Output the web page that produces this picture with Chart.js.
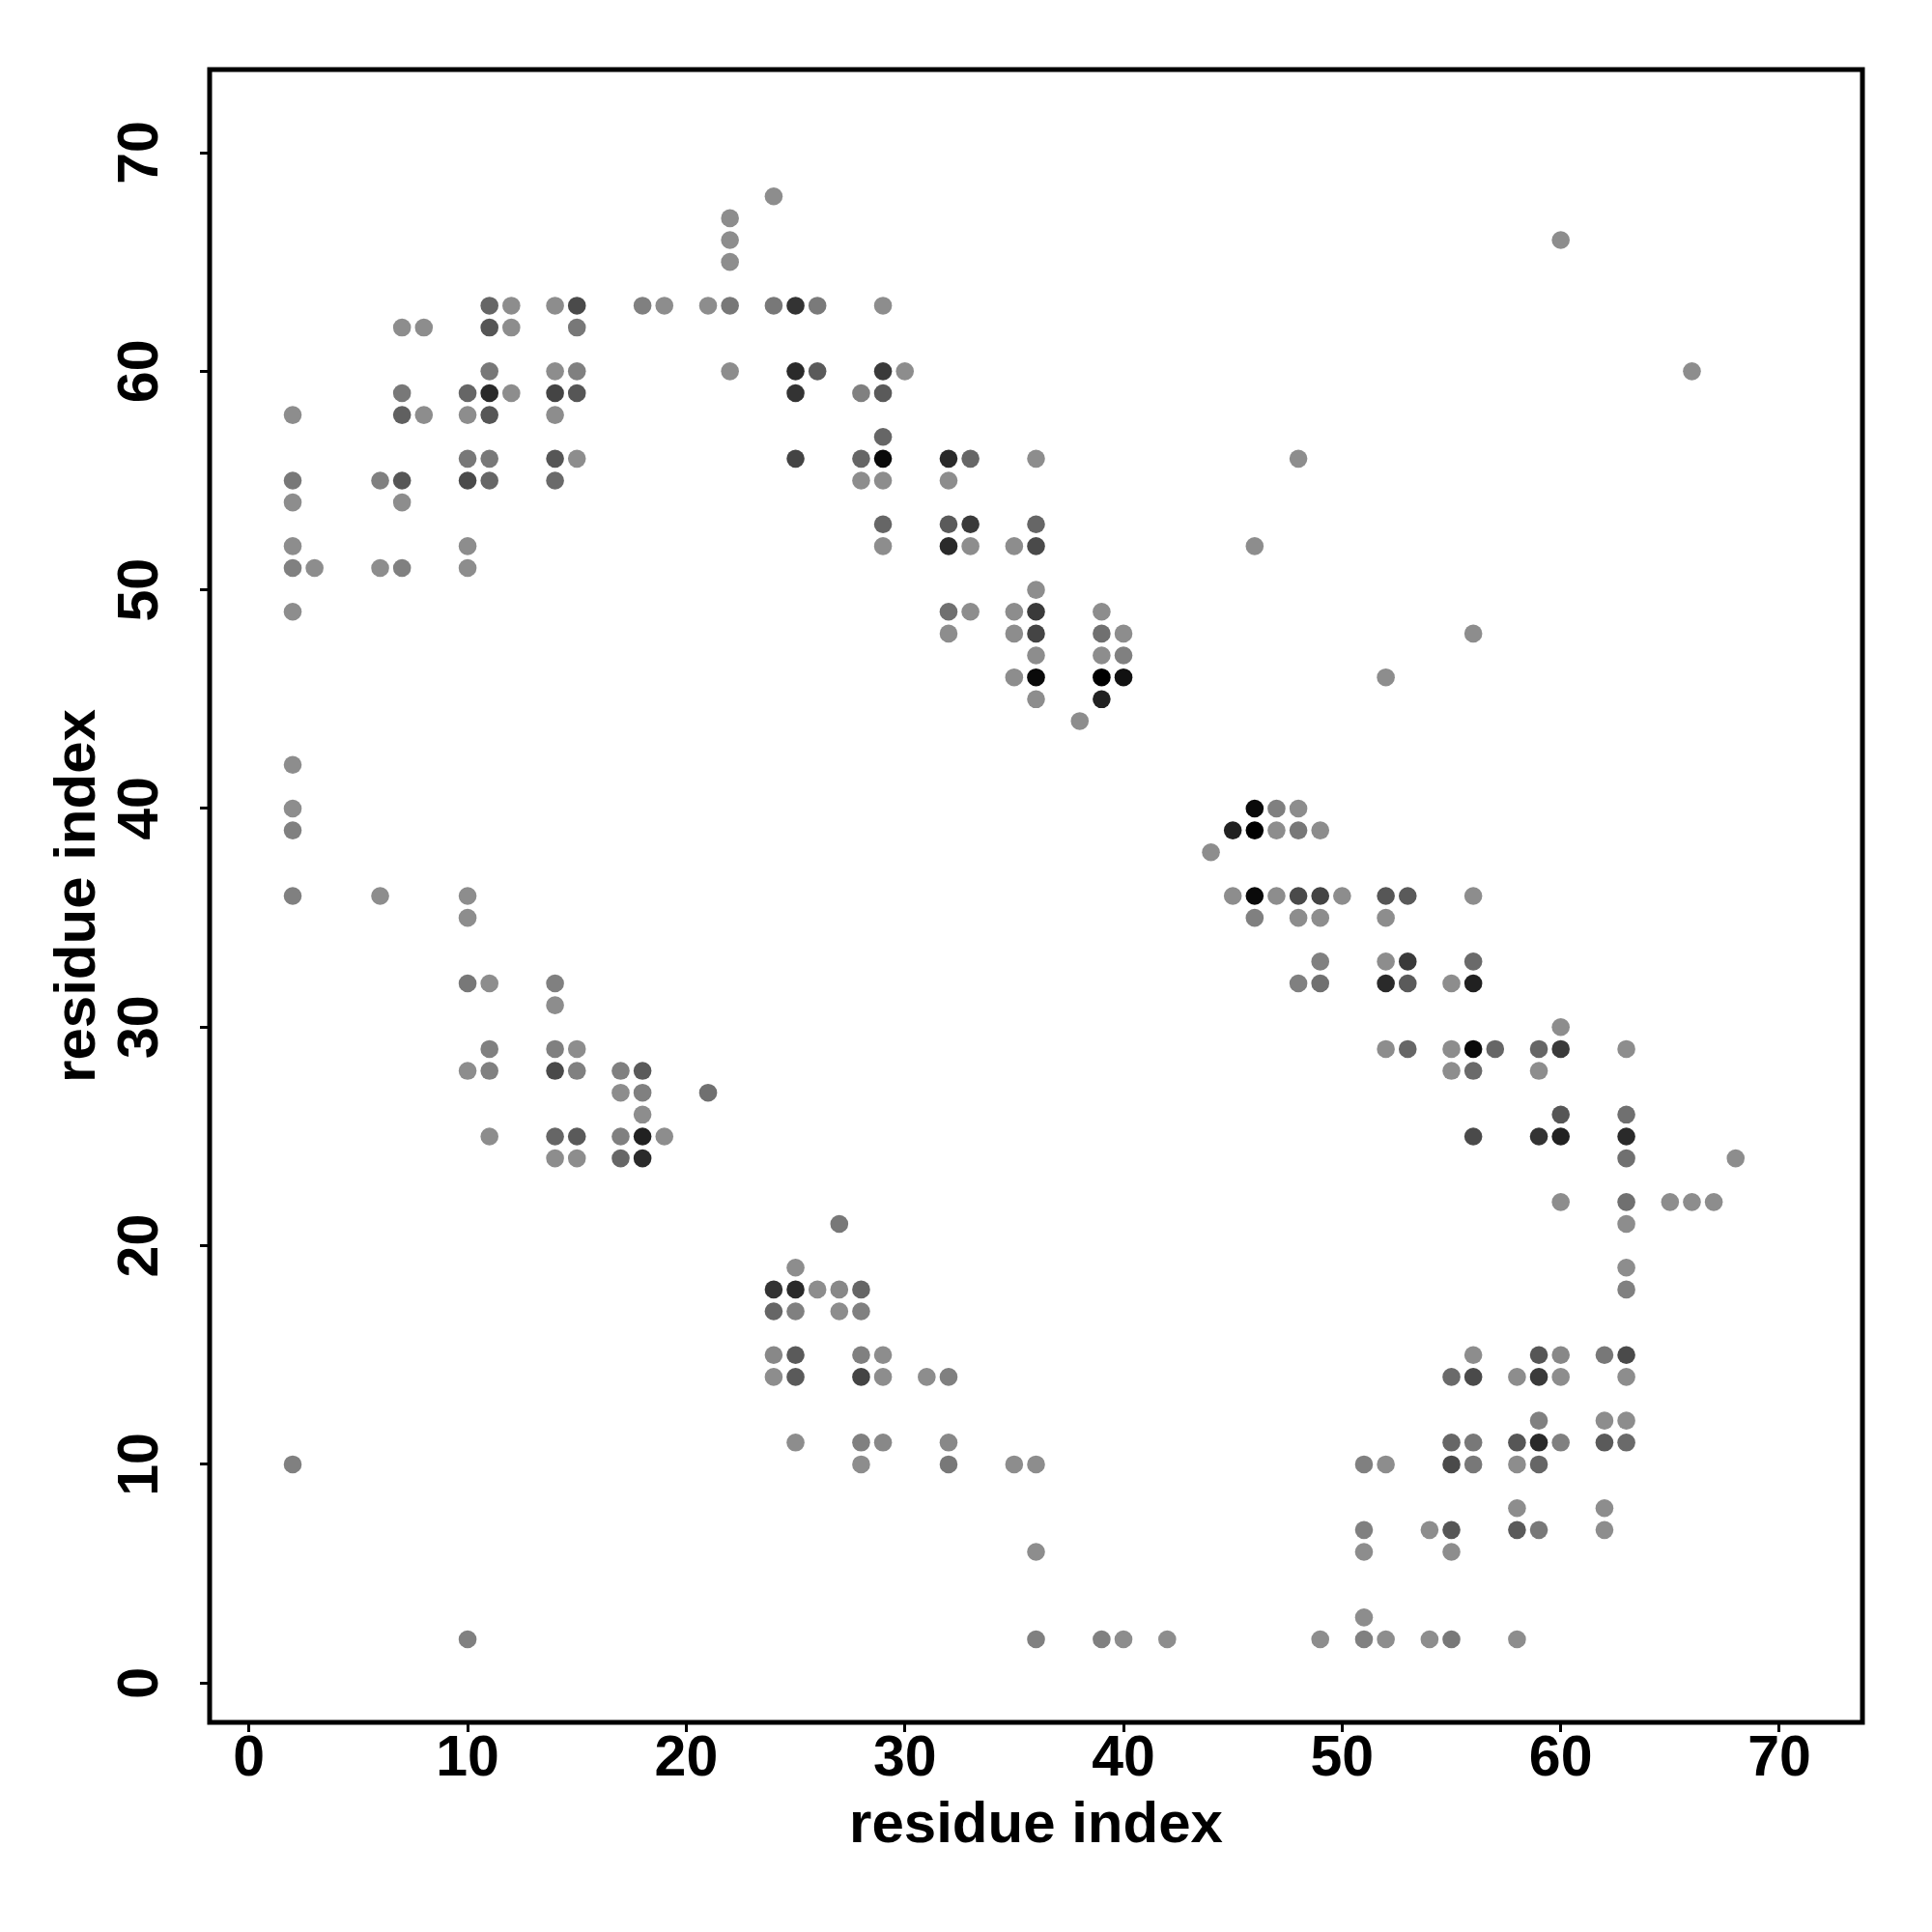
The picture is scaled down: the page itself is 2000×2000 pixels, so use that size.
<!DOCTYPE html>
<html>
<head>
<meta charset="utf-8">
<script src="https://cdn.jsdelivr.net/npm/chart.js@4.4.1/dist/chart.umd.min.js"></script>
<style>
  html, body { margin: 0; padding: 0; background: #fff; }
</style>
</head>
<body>
<canvas id="myChart" width="2000" height="2000"></canvas>
<script>
// contact map: residue i, residue j, contact strength (0 = faint, 1 = strong)
var contactI = [
  2,2,2,2,2,2,2,2,2,2,2,
  3,
  6,6,6,
  7,7,7,7,7,7,
  8,8,
  10,10,10,10,10,10,10,10,10,10,10,
  11,11,11,11,11,11,11,11,11,11,11,
  12,12,12,
  14,14,14,14,14,14,14,14,14,14,14,14,
  15,15,15,15,15,15,15,15,15,
  17,17,17,17,
  18,18,18,18,18,18,
  19,19,
  21,21,
  22,22,22,22,22,
  24,24,24,24,24,24,
  25,25,25,25,25,25,25,25,25,25,
  26,26,26,
  27,27,27,
  28,28,28,28,28,28,28,28,28,
  29,29,29,29,29,29,29,29,29,29,29,
  30,
  31,
  32,32,32,32,32,32,32,32,32,
  33,33,33,33,
  35,35,35,35,35,
  36,36,36,36,36,36,36,36,36,36,36,36,
  38,
  39,39,39,39,39,39,
  40,40,40,40,
  42,
  44,
  45,45,
  46,46,46,46,46,
  47,47,47,
  48,48,48,48,48,48,
  49,49,49,49,49,49,
  50,
  51,51,51,51,51,
  52,52,52,52,52,52,52,52,
  53,53,53,53,
  54,54,
  55,55,55,55,55,55,55,55,55,
  56,56,56,56,56,56,56,56,56,56,56,
  57,
  58,58,58,58,58,58,
  59,59,59,59,59,59,59,59,59,
  60,60,60,60,60,60,60,60,60,
  62,62,62,62,62,
  63,63,63,63,63,63,63,63,63,63,63,63,
  65,
  66,66,
  67,
  68
];
var contactJ = [
  58,55,54,52,51,49,42,40,39,36,10,
  51,
  55,51,36,
  62,59,58,55,54,51,
  62,58,
  59,58,56,55,52,51,36,35,32,28,2,
  63,62,60,59,58,56,55,32,29,28,25,
  63,62,59,
  63,60,59,58,56,55,32,31,29,28,25,24,
  63,62,60,59,56,29,28,25,24,
  28,27,25,24,
  63,28,27,26,25,24,
  63,25,
  63,27,
  67,66,65,63,60,
  68,63,18,17,15,14,
  63,60,59,56,19,18,17,15,14,11,
  63,60,18,
  21,18,17,
  59,56,55,18,17,15,14,11,10,
  63,60,59,57,56,55,53,52,15,14,11,
  60,
  14,
  56,55,53,52,49,48,14,11,10,
  56,53,52,49,
  52,49,48,46,10,
  56,53,52,50,49,48,47,46,45,10,6,2,
  44,
  49,48,47,46,45,2,
  48,47,46,2,
  2,
  38,
  39,36,
  52,40,39,36,35,
  40,39,36,
  56,40,39,36,35,32,
  39,36,35,33,32,2,
  36,
  10,7,6,3,2,
  46,36,35,33,32,29,10,2,
  36,33,32,29,
  7,2,
  32,29,28,14,11,10,7,6,2,
  48,36,33,32,29,28,25,15,14,11,10,
  29,
  14,11,10,8,7,2,
  29,28,25,15,14,12,11,10,7,
  66,30,29,26,25,22,15,14,11,
  15,12,11,8,7,
  29,26,25,24,22,21,19,18,15,14,12,11,
  22,
  60,22,
  22,
  24
];
var contactP = [
  .03,.17,.03,.03,.12,.03,.03,.03,.12,.12,.12,
  .03,
  .12,.03,.03,
  .03,.17,.34,.41,.03,.12,
  .03,.03,
  .30,.03,.17,.49,.03,.03,.03,.03,.17,.03,.12,
  .30,.41,.17,.71,.41,.17,.30,.03,.12,.12,.03,
  .03,.03,.03,
  .03,.03,.53,.03,.41,.27,.12,.03,.12,.49,.30,.03,
  .49,.17,.12,.41,.03,.03,.12,.38,.03,
  .12,.03,.12,.30,
  .12,.38,.12,.03,.77,.71,
  .03,.03,
  .03,.23,
  .03,.03,.03,.17,.03,
  .03,.17,.65,.30,.06,.03,
  .65,.71,.65,.53,.03,.71,.12,.38,.38,.03,
  .16,.38,.03,
  .17,.06,.03,
  .12,.30,.03,.30,.12,.12,.53,.12,.03,
  .03,.60,.38,.30,.93,.03,.30,.03,.03,.03,.06,
  .03,
  .03,
  .71,.03,.38,.71,.23,.03,.12,.06,.17,
  .30,.60,.03,.03,
  .03,.03,.03,.03,.03,
  .03,.30,.49,.03,.60,.53,.03,.93,.03,.03,.03,.12,
  .03,
  .03,.23,.03,1,.77,.12,
  .03,.12,.88,.03,
  .03,
  .03,
  .77,.03,
  .03,.93,1,.93,.12,
  .12,.03,.03,
  .03,.03,.17,.49,.03,.12,
  .03,.53,.03,.12,.23,.03,
  .03,
  .12,.12,.03,.03,.12,
  .03,.41,.03,.03,.71,.03,.03,.03,
  .38,.60,.38,.30,
  .03,.03,
  .03,.03,.03,.27,.30,.49,.41,.03,.17,
  .03,.03,.27,.77,.93,.27,.49,.03,.49,.17,.17,
  .30,
  .03,.41,.03,.03,.38,.03,
  .30,.03,.65,.41,.60,.12,.71,.30,.17,
  .03,.03,.60,.41,.77,.03,.06,.03,.12,
  .17,.03,.38,.03,.03,
  .03,.23,.71,.23,.23,.03,.03,.12,.49,.03,.03,.27,
  .03,
  .03,.03,
  .03,
  .03
];
var tickVals = [0, 10, 20, 30, 40, 50, 60, 70];
var axisMin = -1.8;
var axisMax = 73.8;

var points = contactI.map(function(v, k){ return {x: v, y: contactJ[k]}; });
var colors = contactP.map(function(p){
  var g = Math.round(145 * (1 - p));
  return 'rgb(' + g + ',' + g + ',' + g + ')';
});

var boxPlugin = {
  id: 'box',
  afterDraw: function(chart){
    var a = chart.chartArea;
    var c = chart.ctx;
    c.save();
    c.strokeStyle = '#000';
    c.lineWidth = 5;
    c.lineJoin = 'miter';
    c.strokeRect(a.left, a.top, a.right - a.left, a.bottom - a.top);
    c.restore();
  }
};

var fontFam = '"Liberation Sans", Arial, Helvetica, sans-serif';

var ctx = document.getElementById('myChart');
var myChart = new Chart(ctx, {
  type: 'scatter',
  data: {
    datasets: [{
      label: 'contacts',
      data: points,
      backgroundColor: colors,
      borderWidth: 0,
      pointRadius: 9.3,
      pointHoverRadius: 9.3
    }]
  },
  options: {
    responsive: false,
    animation: false,
    devicePixelRatio: 1,
    layout: { padding: { top: 72, right: 72, left: 0, bottom: 0 } },
    plugins: { legend: { display: false }, tooltip: { enabled: false } },
    scales: {
      x: {
        type: 'linear',
        min: axisMin,
        max: axisMax,
        afterBuildTicks: function(s){ s.ticks = tickVals.map(function(v){ return {value: v}; }); },
        afterFit: function(s){ s.height = 217; },
        border: { display: false },
        grid: { drawOnChartArea: false, drawTicks: true, tickLength: 10, tickWidth: 3, tickColor: '#000' },
        ticks: { color: '#000', padding: -7, maxRotation: 0, font: { family: fontFam, size: 59, weight: 'bold' } },
        title: { display: true, text: 'residue index', color: '#000', padding: { top: 0, bottom: 74 },
                 font: { family: fontFam, size: 60, weight: 'bold', lineHeight: 1.2 } }
      },
      y: {
        type: 'linear',
        min: axisMin,
        max: axisMax,
        afterBuildTicks: function(s){ s.ticks = tickVals.map(function(v){ return {value: v}; }); },
        afterFit: function(s){ s.width = 217; },
        border: { display: false },
        grid: { drawOnChartArea: false, drawTicks: true, tickLength: 10, tickWidth: 3, tickColor: '#000' },
        ticks: { color: '#000', padding: 27, minRotation: 90, maxRotation: 90, crossAlign: 'center',
                 font: { family: fontFam, size: 59, weight: 'bold' } },
        title: { display: true, text: 'residue index', color: '#000', padding: { top: 45, bottom: 0 },
                 font: { family: fontFam, size: 60, weight: 'bold', lineHeight: 1.2 } }
      }
    }
  },
  plugins: [boxPlugin]
});
</script>
</body>
</html>
